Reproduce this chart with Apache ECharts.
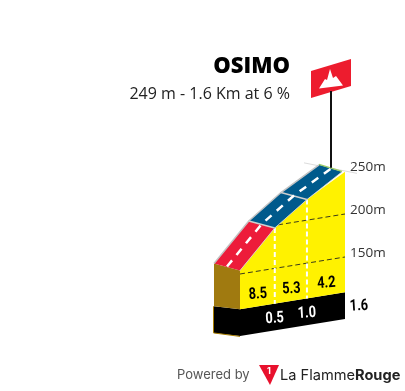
<!DOCTYPE html>
<html><head><meta charset="utf-8">
<script src="https://cdn.jsdelivr.net/npm/echarts@6/dist/echarts.min.js"></script>
<style>html,body{margin:0;padding:0;background:#fff}#c{width:405px;height:391px}</style>
</head><body><div id="c"></div>
<script>
const climbName = 'OSIMO';
const climbInfo = '249 m - 1.6 Km at 6 %';
const kmMarks = [0, 0.53, 1.02, 1.6];
const elevations = [154, 197, 224, 249];
const gradients = ['8.5', '5.3', '4.2'];
const kmLabels = ['0.5', '1.0', '1.6'];
const gradeBands = ['#ED1C3A', '#005A8C', '#005A8C'];
const elevationTicks = [150, 200, 250];
const plinthTop = 109;
const plinthBottom = 78;

const SHEAR = 17;
const KM_END = 1.6;
const chart = echarts.init(document.getElementById('c'), null, {renderer: 'canvas'});

function P(api, km, m, dx, dy) {
  const p = api.coord([km, m]);
  return [p[0] + (dx || 0), p[1] + SHEAR * (KM_END - km) / KM_END + (dy || 0)];
}
function poly(points, fill) {
  return {type: 'polygon', shape: {points}, style: {fill}};
}
function line(points, stroke, width, dash) {
  return {type: 'polyline', shape: {points}, style: {stroke, lineWidth: width, fill: null, lineDash: dash || null}};
}
function elevAt(km) {
  for (let i = 0; i < kmMarks.length - 1; i++) {
    if (km <= kmMarks[i + 1]) {
      const t = (km - kmMarks[i]) / (kmMarks[i + 1] - kmMarks[i]);
      return elevations[i] + t * (elevations[i + 1] - elevations[i]);
    }
  }
  return elevations[elevations.length - 1];
}
const BACK = [-26, -7];
const BASE_BACK = [-26, -3];
const LABEL_FONT = 'bold 16px Roboto';

function label(text, p, fill) {
  return {type: 'text', x: p[0], y: p[1], rotation: 0.06, scaleX: 0.8,
    style: {text, fill, align: 'center', verticalAlign: 'middle', font: LABEL_FONT}};
}

function renderBody(params, api) {
  const c = [];
  const n = kmMarks.length;
  const first = kmMarks[0], last = kmMarks[n - 1];
  const topEl = elevations[n - 1];
  // plinth side and front
  c.push(poly([P(api, first, plinthTop, BASE_BACK[0], BASE_BACK[1]), P(api, first, plinthTop), P(api, first, plinthBottom), P(api, first, plinthBottom, BASE_BACK[0], BASE_BACK[1])], '#000'));
  c.push(poly([P(api, first, plinthTop), P(api, last, plinthTop), P(api, last, plinthBottom), P(api, first, plinthBottom)], '#000'));
  c.push(line([P(api, first, plinthTop, -26.5, -3), P(api, first, plinthBottom, -26.5, -3), P(api, first, plinthBottom, 0, 0.5)], '#A67C00', 1));
  // brown side
  c.push(poly([P(api, first, elevations[0], BACK[0], BACK[1]), P(api, first, elevations[0]), P(api, first, plinthTop), P(api, first, plinthTop, BASE_BACK[0], BASE_BACK[1])], '#A07A10'));
  // yellow wall
  const top = kmMarks.map((k, i) => P(api, k, elevations[i]));
  c.push(poly(top.concat([P(api, last, plinthTop), P(api, first, plinthTop)]), '#FFF200'));
  // dashed elevation lines
  elevationTicks.slice(0, 2).forEach(function (t) {
    let k0 = first;
    for (let s = 0; s <= 160; s++) { const k = s / 100; if (elevAt(k) <= t) k0 = k; }
    c.push(line([P(api, k0, t), P(api, last, t)], '#3a3a1a', 1, [5, 3]));
  });
  // white km dividers
  for (let i = 1; i < n - 1; i++) {
    c.push(line([P(api, kmMarks[i], elevations[i]), P(api, kmMarks[i], plinthTop)], '#fff', 2, [5, 3]));
  }
  // summit shadow
  c.push(line([P(api, last, topEl, -41, -9), P(api, last, topEl, 12, 1.5)], '#dcdcdc', 1));
  // road
  for (let i = 0; i < n - 1; i++) {
    const endDx = i === n - 2 ? -3 : 0;
    c.push(poly([
      P(api, kmMarks[i], elevations[i]), P(api, kmMarks[i + 1], elevations[i + 1], endDx, 0),
      P(api, kmMarks[i + 1], elevations[i + 1], BACK[0], BACK[1]), P(api, kmMarks[i], elevations[i], BACK[0], BACK[1])
    ], gradeBands[i]));
  }
  // back edge
  c.push(line(kmMarks.map((k, i) => P(api, k, elevations[i], BACK[0], BACK[1])), '#c4c4c4', 1.5));
  // front edge
  c.push(line(top.slice(0, n - 1).concat([P(api, last, topEl, -3, 0)]), '#d8d8d8', 0.8));
  // band separators
  for (let i = 1; i < n - 1; i++) {
    c.push(line([P(api, kmMarks[i], elevations[i]), P(api, kmMarks[i], elevations[i], BACK[0], BACK[1])], '#cfcfcf', 1.5));
  }
  // summit edge
  c.push(line([P(api, last, topEl, BACK[0], BACK[1] - 0.5), P(api, last, topEl, -3, -0.5)], '#9CCC65', 1.2));
  // centre line
  c.push(line(kmMarks.map((k, i) => P(api, k, elevations[i], BACK[0] / 2, BACK[1] / 2 - 0.5)), '#fff', 2.5, [8, 7]));
  // pole
  const base = P(api, last, topEl, -14, -4);
  c.push({type: 'line', shape: {x1: base[0], y1: base[1], x2: base[0], y2: 91}, style: {stroke: '#111', lineWidth: 2}});
  // gradient labels
  for (let i = 0; i < gradients.length; i++) {
    const km = (kmMarks[i] + kmMarks[i + 1]) / 2;
    const p = P(api, km, plinthTop);
    c.push(label(gradients[i], [p[0] + 0.5, p[1] - 12], '#000'));
  }
  // km labels
  for (let i = 0; i < 2; i++) {
    const p = P(api, kmMarks[i + 1], plinthTop);
    c.push(label(kmLabels[i], [p[0], p[1] + 15], '#fff'));
  }
  const pe = P(api, last, plinthTop);
  c.push(label(kmLabels[2], [pe[0] + 14, pe[1] + 14], '#000'));
  return {type: 'group', children: c};
}

chart.setOption({
  animation: false,
  backgroundColor: '#fff',
  grid: {left: 213.75, right: 60, top: 128, bottom: 5},
  xAxis: {type: 'value', min: -0.4, max: 1.6, interval: 0.4, show: false},
  yAxis: {
    type: 'value', position: 'right', min: 0, max: 300, interval: 50,
    axisLine: {show: false}, axisTick: {show: false}, splitLine: {show: false},
    axisLabel: {
      show: true, customValues: elevationTicks, margin: 5, verticalAlign: 'bottom', lineHeight: 7,
      formatter: v => v + 'm', color: '#333', fontSize: 13.5, fontFamily: '"Open Sans"'
    }
  },
  series: [{type: 'custom', silent: true, clip: false, renderItem: renderBody, data: [[0, 0]], encode: {x: 0, y: 1}}],
  graphic: [
    {type: 'text', right: 115, top: 56, style: {text: climbName, fill: '#000', font: '800 22px "Open Sans"', align: 'right'}},
    {type: 'text', right: 115, top: 86, style: {text: climbInfo, fill: '#222', font: '16px "Open Sans"', align: 'right'}},
    {type: 'polygon', shape: {points: [[311, 71], [351, 59], [351, 86], [311, 98]]}, style: {fill: '#ED1C2E'}},
    {type: 'polygon', shape: {points: [[319, 88.5], [325, 79], [327, 80], [330, 69], [333, 78], [336, 76], [343, 85.5]]}, style: {fill: '#fff'}},
    {type: 'text', left: 177, top: 369, style: {text: 'Powered by', fill: '#555', font: '13px Inter'}},
    {type: 'polygon', shape: {points: [[259, 365], [279, 365], [270, 385]]}, style: {fill: '#E8112D'}},
    {type: 'text', left: 267, top: 367, style: {text: '1', fill: '#fff', font: 'bold 9px Inter'}},
    {type: 'text', left: 280, top: 368, style: {
      text: '{a|La Flamme}{b|Rouge}',
      rich: {a: {font: '14.6px Inter', fill: '#222'}, b: {font: 'bold 14.6px Inter', fill: '#222'}}
    }}
  ]
});
</script></body></html>
